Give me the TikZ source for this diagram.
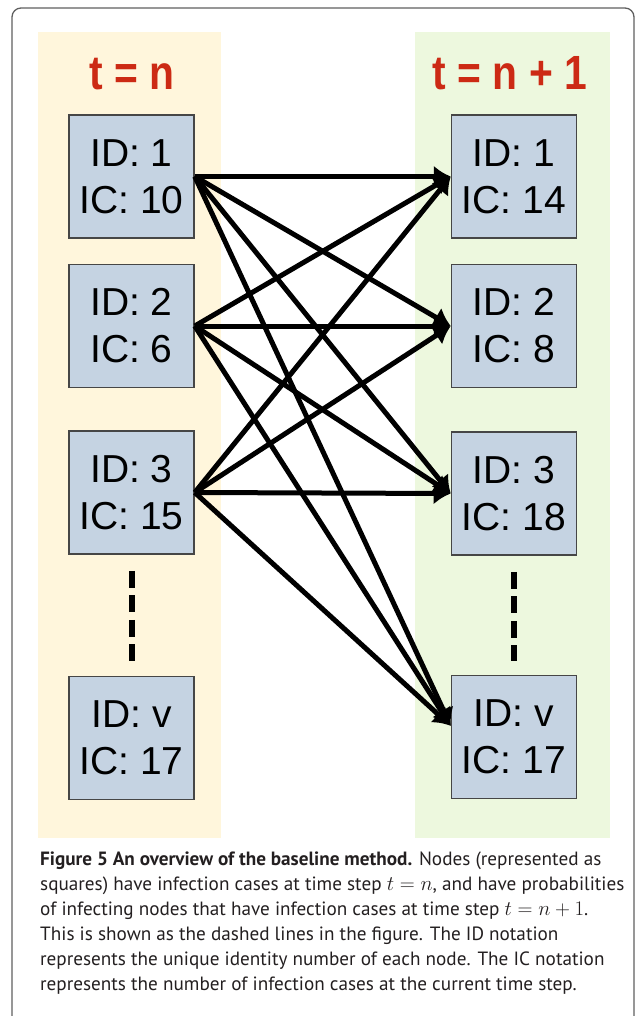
\documentclass[tikz,border=0pt]{standalone}
\usepackage{fontspec}
\setmainfont{Liberation Sans}
\newfontfamily\headfont[FakeStretch=0.85]{Liberation Sans}
\newfontfamily\capfont{PT Sans}
\usetikzlibrary{arrows.meta,positioning}
\definecolor{stepred}{RGB}{204,42,20}
\definecolor{cellfill}{RGB}{197,211,226}
\definecolor{cellline}{RGB}{70,70,70}
\definecolor{nowcol}{RGB}{255,246,220}
\definecolor{nextcol}{RGB}{237,248,222}
\definecolor{framegray}{RGB}{95,95,95}
\definecolor{captext}{RGB}{35,31,32}

\begin{document}
\begin{tikzpicture}[
    x=1pt, y=-1pt,
    cell/.style={draw=cellline, line width=1.5pt, fill=cellfill, align=center, inner sep=0pt,
      minimum width=125pt, minimum height=123pt, font=\fontsize{39}{47}\selectfont},
    steplabel/.style={anchor=base, text=stepred, font=\headfont\bfseries\fontsize{48}{50}\selectfont},
    link/.style={-{Latex[length=17pt,width=22pt]}, line width=5pt},
    gapline/.style={line width=6pt, dash pattern=on 17pt off 7.5pt}
]
\useasboundingbox (0,0) rectangle (635,1016);
\draw[framegray, line width=1.3pt, rounded corners=9pt] (12,8) rectangle (634,1060);
\fill[nowcol] (38,32) rectangle (221,838);
\fill[nextcol] (415,32) rectangle (610,838);
\node[steplabel] (tnow) at (132,90) {t = n};
\node[steplabel] (tnext) at (510,90) {t = n + 1};
% time step n
\node[cell] (l1) at (131.5,176.5) {ID: 1\\IC: 10};
\node[cell, below=25pt of l1] (l2) {ID: 2\\IC: 6};
\node[cell, below=42pt of l2] (l3) {ID: 3\\IC: 15};
\node[cell, below=121pt of l3] (lv) {ID: v\\IC: 17};
% time step n+1
\node[cell, right=256pt of l1] (r1) {ID: 1\\IC: 14};
\node[cell, below=25pt of r1] (r2) {ID: 2\\IC: 8};
\node[cell, below=43pt of r2] (r3) {ID: 3\\IC: 18};
\node[cell, below=119pt of r3] (rv) {ID: v\\IC: 17};
\draw[gapline] ([yshift=-16pt]l3.south) -- ([yshift=14pt]lv.north);
\draw[gapline] ([yshift=-16pt]r3.south) -- ([yshift=14pt]rv.north);
\draw[link] (l1.east) -- (r1.west);
\draw[link] (l1.east) -- (r2.west);
\draw[link] (l1.east) -- (r3.west);
\draw[link] (l1.east) -- (rv.170);
\draw[link] (l2.east) -- (r1.west);
\draw[link] (l2.east) -- (r2.west);
\draw[link] (l2.east) -- (r3.west);
\draw[link] (l2.east) -- (rv.170);
\draw[link] (l3.east) -- (r1.west);
\draw[link] (l3.east) -- (r2.west);
\draw[link] (l3.east) -- (r3.west);
\draw[link] (l3.east) -- (rv.170);
\node[anchor=north west, inner sep=0pt, align=left, text=captext,
  font=\capfont\fontsize{19.2}{25}\selectfont] (caption) at (40,852)
  {\textbf{Figure 5 An overview of the baseline method.} Nodes (represented as\\
   squares) have infection cases at time step $t = n$, and have probabilities\\
   of infecting nodes that have infection cases at time step $t = n + 1$.\\
   This is shown as the dashed lines in the figure. The ID notation\\
   represents the unique identity number of each node. The IC notation\\
   represents the number of infection cases at the current time step.};
\end{tikzpicture}
\end{document}
